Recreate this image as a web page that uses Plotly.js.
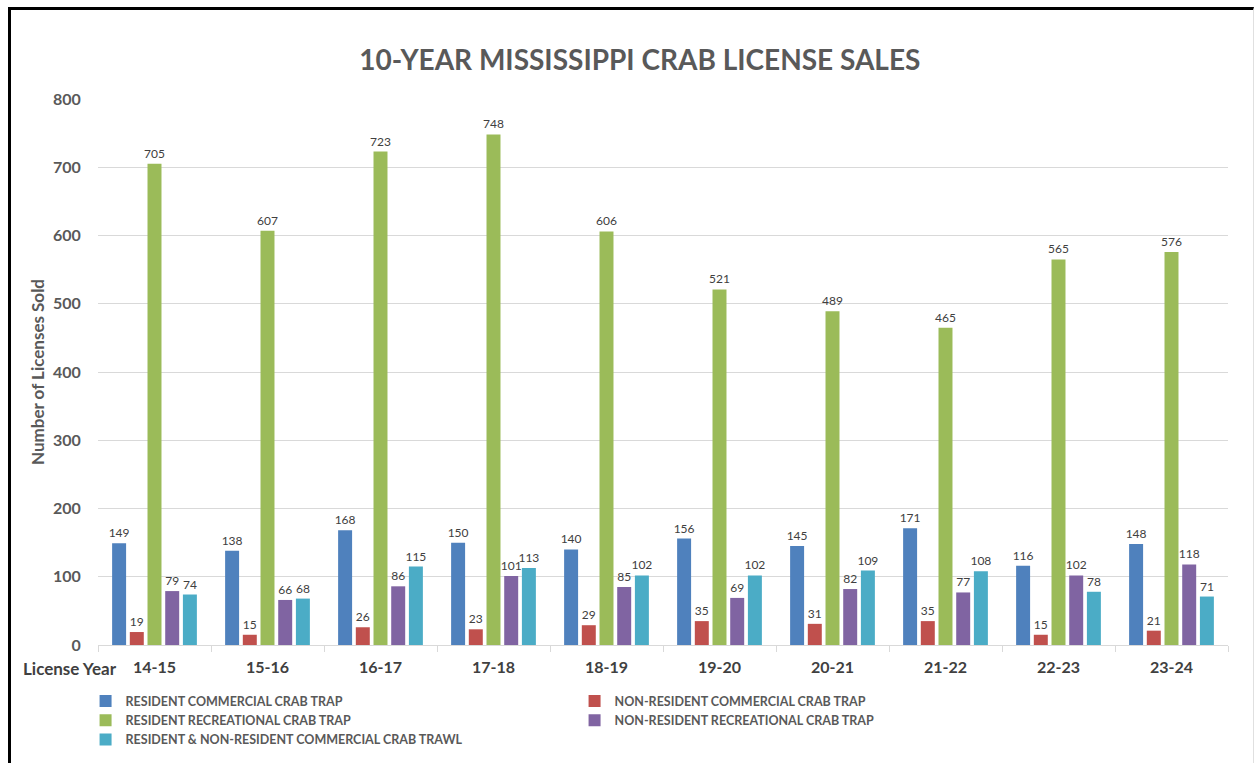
<!DOCTYPE html>
<html>
<head>
<meta charset="utf-8">
<script src="https://cdn.plot.ly/plotly-3.0.1.min.js"></script>
<style>
html,body{margin:0;padding:0;background:#fff;}
#frame{position:absolute;left:8px;top:7px;width:1246px;height:760px;border-top:3px solid #000;border-left:3px solid #000;border-right:1px solid #e0e0e0;box-sizing:border-box;pointer-events:none;z-index:10;}
#chart{position:absolute;left:0;top:0;width:1257px;height:763px;}
</style>
</head>
<body>
<div id="chart"></div>
<div id="frame"></div>
<script>
const years = ["14-15","15-16","16-17","17-18","18-19","19-20","20-21","21-22","22-23","23-24"];
const seriesNames = [
  "RESIDENT COMMERCIAL CRAB TRAP",
  "NON-RESIDENT COMMERCIAL CRAB TRAP",
  "RESIDENT RECREATIONAL CRAB TRAP",
  "NON-RESIDENT RECREATIONAL CRAB TRAP",
  "RESIDENT & NON-RESIDENT COMMERCIAL CRAB TRAWL"
];
const residentCommercialTrap = [149,138,168,150,140,156,145,171,116,148];
const nonResidentCommercialTrap = [19,15,26,23,29,35,31,35,15,21];
const residentRecreationalTrap = [705,607,723,748,606,521,489,465,565,576];
const nonResidentRecreationalTrap = [79,66,86,101,85,69,82,77,102,118];
const commercialTrawl = [74,68,115,113,102,102,109,108,78,71];
const colors = ["#4F81BD","#C0504D","#9BBB59","#8064A2","#4BACC6"];

const allSeries = [residentCommercialTrap, nonResidentCommercialTrap, residentRecreationalTrap, nonResidentRecreationalTrap, commercialTrawl];
const FONT = "Lato, 'Open Sans', sans-serif";

const traces = allSeries.map((vals, i) => ({
  type: "bar",
  name: "<b>" + seriesNames[i].replace("&", "&amp;") + "</b>",
  x: years,
  y: vals,
  marker: {color: colors[i]},
  text: vals.map(String),
  textposition: "outside",
  constraintext: "none",
  textfont: {family: FONT, size: 12, color: "#404040"},
  cliponaxis: false,
  hoverinfo: "x+y+name"
}));

const layout = {
  width: 1257, height: 763,
  paper_bgcolor: "#fff", plot_bgcolor: "#fff",
  margin: {l: 98, r: 29, t: 99, b: 118, autoexpand: false},
  barmode: "group",
  bargap: 0.217,
  bargroupgap: 0.21,
  title: {
    text: "<b>10-YEAR MISSISSIPPI CRAB LICENSE SALES</b>",
    font: {family: FONT, size: 28, color: "#595959"},
    xref: "container", yref: "container",
    x: 0.509, xanchor: "center",
    y: 1 - 60/763, yanchor: "middle"
  },
  xaxis: {
    type: "category",
    tickson: "boundaries",
    ticks: "outside", ticklen: 6, tickcolor: "#D9D9D9",
    ticklabelstandoff: 8,
    showgrid: false,
    showline: true, linecolor: "#D9D9D9", linewidth: 1,
    tickfont: {family: FONT, size: 16, color: "#404040"},
    tickprefix: "<b>", ticksuffix: "</b>"
  },
  yaxis: {
    range: [0, 800],
    dtick: 100,
    showgrid: true, gridcolor: "#D9D9D9", gridwidth: 1,
    zeroline: true, zerolinecolor: "#D9D9D9",
    ticks: "outside", ticklen: 13, tickcolor: "rgba(0,0,0,0)",
    tickfont: {family: FONT, size: 16, color: "#595959"},
    tickprefix: "<b>", ticksuffix: "</b>",
    title: {
      text: "<b>Number of Licenses Sold</b>",
      font: {family: FONT, size: 17, color: "#595959"},
      standoff: 4
    }
  },
  legend: {
    orientation: "h",
    x: -0.011, xanchor: "left",
    y: -0.076, yanchor: "top",
    entrywidth: 444, entrywidthmode: "pixels",
    font: {family: FONT, size: 12.5, color: "#595959"},
    itemwidth: 30,
    traceorder: "normal"
  },
  annotations: [{
    text: "<b>License Year</b>",
    xref: "paper", yref: "paper",
    x: -77/1130, xanchor: "left",
    y: -23/546, yanchor: "middle",
    showarrow: false,
    font: {family: FONT, size: 17, color: "#404040"}
  }],
  showlegend: true
};

Plotly.newPlot("chart", traces, layout, {displayModeBar: false, staticPlot: true});
</script>
</body>
</html>
